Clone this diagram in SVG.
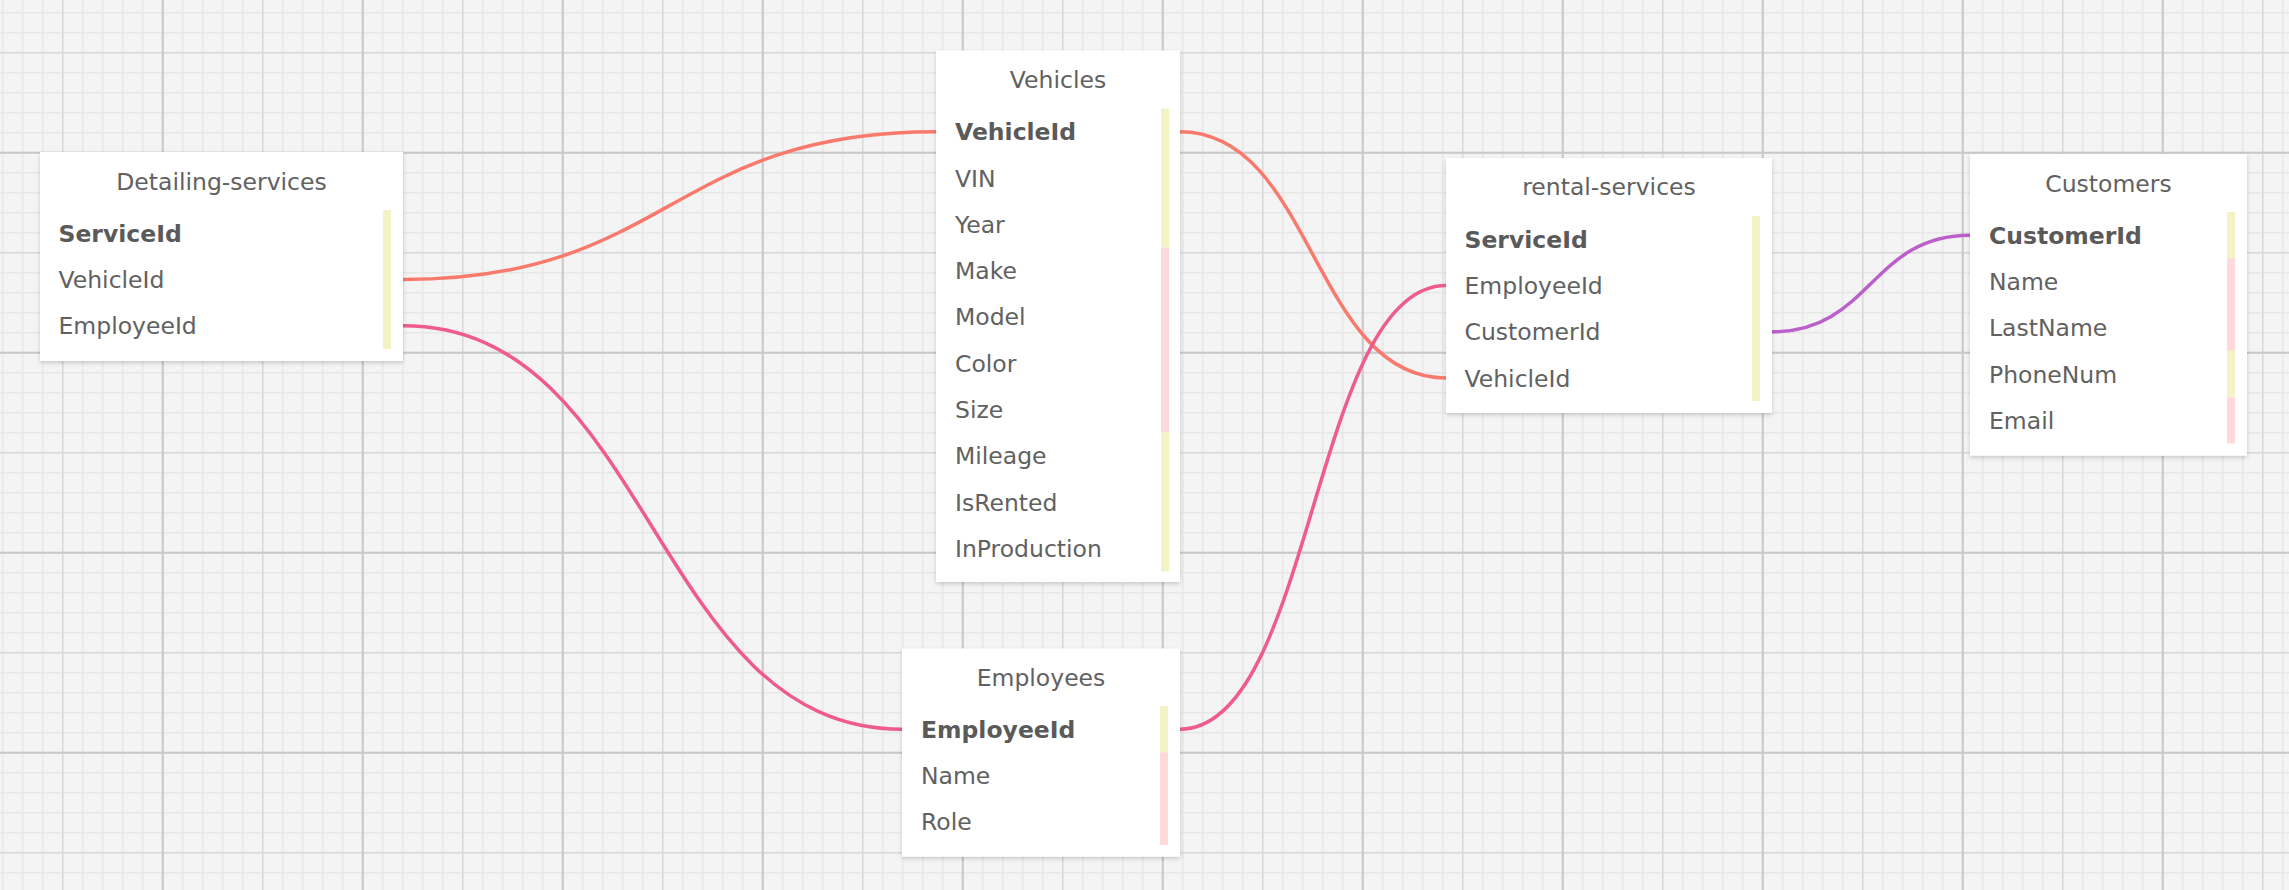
<svg xmlns="http://www.w3.org/2000/svg" width="2289" height="890" viewBox="0 0 2289 890">
<defs>
<pattern id="gMinor" patternUnits="userSpaceOnUse" x="1.95" y="11.95" width="20" height="20">
<rect x="0" y="0" width="1.5" height="20" fill="#e7e7e7"/>
<rect x="0" y="0" width="20" height="1.5" fill="#e7e7e7"/>
</pattern>
<pattern id="gMed" patternUnits="userSpaceOnUse" x="61.95" y="51.95" width="100" height="100">
<rect x="0" y="0" width="1.5" height="100" fill="#dadada"/>
<rect x="0" y="0" width="100" height="1.5" fill="#dadada"/>
</pattern>
<pattern id="gMaj" patternUnits="userSpaceOnUse" x="161.7" y="151.7" width="200" height="200">
<rect x="0" y="0" width="2" height="200" fill="#c9c9c9"/>
<rect x="0" y="0" width="200" height="2" fill="#c9c9c9"/>
</pattern>
<filter id="sh" x="-10%" y="-10%" width="120%" height="120%">
<feDropShadow dx="0" dy="2" stdDeviation="2" flood-color="#000" flood-opacity="0.18"/>
</filter>
</defs>
<style>
.box{fill:#ffffff;filter:url(#sh);}
.title{font-family:"DejaVu Sans",Verdana,sans-serif;font-size:23.5px;fill:#616161;text-anchor:middle;}
.f{font-family:"DejaVu Sans",Verdana,sans-serif;font-size:23.5px;fill:#616161;}
.pk{font-weight:bold;fill:#5a5a5a;}
.y{fill:#f3f3c5;}
.p{fill:#fdd9d9;}
.c{fill:none;stroke-width:3.5;stroke-linecap:round;}
.salmon{stroke:#f97a6c;}
.pink{stroke:#ef5b8e;}
.purple{stroke:#bb5fca;}
</style>
<rect x="0" y="0" width="2289" height="890" fill="#f4f4f4"/>
<rect x="0" y="0" width="2289" height="890" fill="url(#gMinor)"/>
<rect x="0" y="0" width="2289" height="890" fill="url(#gMed)"/>
<rect x="0" y="0" width="2289" height="890" fill="url(#gMaj)"/>

<g id="connectors">
<path class="c salmon" d="M403,279.5 C669.5,279.5 669.5,131.7 936,131.7"/>
<path class="c pink" d="M403,325.8 C652.5,325.8 652.5,729.2 902,729.2"/>
<path class="c salmon" d="M1180,131.7 C1313,131.7 1313,378 1446,378"/>
<path class="c pink" d="M1180,729.2 C1313,729.2 1313,285.5 1446,285.5"/>
<path class="c purple" d="M1772,331.8 C1871,331.8 1871,235.2 1970,235.2"/>
</g>

<g id="detailing-services">
<rect class="box" x="40" y="152" width="363" height="209"/>
<text class="title" x="221.5" y="190">Detailing-services</text>
<rect class="y" x="383" y="210" width="8" height="139"/>
<text class="f pk" x="58.5" y="241.7">ServiceId</text>
<text class="f" x="58.5" y="288">VehicleId</text>
<text class="f" x="58.5" y="334.3">EmployeeId</text>
</g>

<g id="vehicles">
<rect class="box" x="936" y="50.5" width="244" height="531.5"/>
<text class="title" x="1058" y="87.5">Vehicles</text>
<rect class="y" x="1161" y="108.5" width="8" height="138.9"/>
<rect class="p" x="1161" y="247.4" width="8" height="185.2"/>
<rect class="y" x="1161" y="432.6" width="8" height="138.9"/>
<text class="f pk" x="955" y="140.2">VehicleId</text>
<text class="f" x="955" y="186.5">VIN</text>
<text class="f" x="955" y="232.8">Year</text>
<text class="f" x="955" y="279.1">Make</text>
<text class="f" x="955" y="325.4">Model</text>
<text class="f" x="955" y="371.7">Color</text>
<text class="f" x="955" y="418">Size</text>
<text class="f" x="955" y="464.3">Mileage</text>
<text class="f" x="955" y="510.6">IsRented</text>
<text class="f" x="955" y="556.9">InProduction</text>
</g>

<g id="rental-services">
<rect class="box" x="1446" y="158" width="326" height="255"/>
<text class="title" x="1609" y="195.3">rental-services</text>
<rect class="y" x="1752" y="216" width="8" height="185.2"/>
<text class="f pk" x="1464.5" y="247.7">ServiceId</text>
<text class="f" x="1464.5" y="294">EmployeeId</text>
<text class="f" x="1464.5" y="340.3">CustomerId</text>
<text class="f" x="1464.5" y="386.6">VehicleId</text>
</g>

<g id="customers">
<rect class="box" x="1970" y="154" width="277" height="301.7"/>
<text class="title" x="2108.5" y="191.5">Customers</text>
<rect class="y" x="2227" y="212" width="8" height="46.3"/>
<rect class="p" x="2227" y="258.3" width="8" height="92.6"/>
<rect class="y" x="2227" y="350.9" width="8" height="46.3"/>
<rect class="p" x="2227" y="397.2" width="8" height="46.3"/>
<text class="f pk" x="1989" y="243.7">CustomerId</text>
<text class="f" x="1989" y="290">Name</text>
<text class="f" x="1989" y="336.3">LastName</text>
<text class="f" x="1989" y="382.6">PhoneNum</text>
<text class="f" x="1989" y="428.9">Email</text>
</g>

<g id="employees">
<rect class="box" x="902" y="648.5" width="278" height="208.2"/>
<text class="title" x="1041" y="685.5">Employees</text>
<rect class="y" x="1160" y="706" width="8" height="46.3"/>
<rect class="p" x="1160" y="752.3" width="8" height="92.6"/>
<text class="f pk" x="921" y="737.7">EmployeeId</text>
<text class="f" x="921" y="784">Name</text>
<text class="f" x="921" y="830.3">Role</text>
</g>
</svg>
